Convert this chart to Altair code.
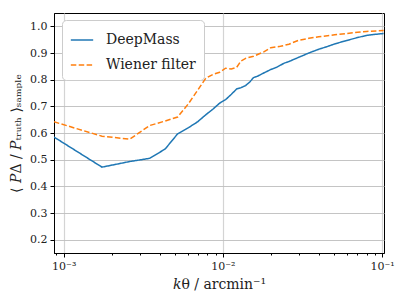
import altair as alt
import pandas as pd

# DeepMass curve
k_deep = [0.000868, 0.00174, 0.0026, 0.00347, 0.00434, 0.0052, 0.00608, 0.00694,
          0.0078, 0.00868, 0.00955, 0.0104, 0.0113, 0.0122, 0.0130, 0.0139, 0.0148,
          0.0156, 0.0165, 0.0182, 0.0200, 0.0217, 0.0243, 0.0260, 0.0300, 0.0347,
          0.0400, 0.0452, 0.0504, 0.0600, 0.0703, 0.0799, 0.0903, 0.1024]
v_deep = [0.585, 0.472, 0.493, 0.505, 0.540, 0.597, 0.620, 0.642,
          0.668, 0.690, 0.712, 0.725, 0.745, 0.765, 0.770, 0.778, 0.792,
          0.808, 0.813, 0.826, 0.838, 0.846, 0.862, 0.868, 0.884, 0.900,
          0.914, 0.924, 0.934, 0.947, 0.958, 0.966, 0.970, 0.973]

# Wiener filter curve
k_wf = [0.000868, 0.00174, 0.0026, 0.00347, 0.00434, 0.0052, 0.00608, 0.00694,
        0.0078, 0.00868, 0.00955, 0.0104, 0.0113, 0.0122, 0.0130, 0.0139, 0.0156,
        0.0182, 0.0200, 0.0230, 0.0260, 0.0300, 0.0347, 0.0400, 0.0504, 0.0600,
        0.0703, 0.0799, 0.1024]
v_wf = [0.642, 0.588, 0.577, 0.628, 0.645, 0.660, 0.710, 0.760,
        0.805, 0.820, 0.828, 0.843, 0.840, 0.846, 0.870, 0.880, 0.888,
        0.905, 0.920, 0.925, 0.933, 0.948, 0.955, 0.961, 0.968, 0.973,
        0.978, 0.981, 0.984]

series_names = ["DeepMass", "Wiener filter"]
series_colors = ["#1f77b4", "#ff7f0e"]

x_ticks = [0.0009, 0.001, 0.002, 0.003, 0.004, 0.005, 0.006, 0.007, 0.008, 0.009,
           0.01, 0.02, 0.03, 0.04, 0.05, 0.06, 0.07, 0.08, 0.09, 0.1]
y_ticks = [0.2, 0.3, 0.4, 0.5, 0.6, 0.7, 0.8, 0.9, 1.0]

df = pd.concat([
    pd.DataFrame({"k": k_deep, "v": v_deep, "s": series_names[0]}),
    pd.DataFrame({"k": k_wf, "v": v_wf, "s": series_names[1]}),
])

FONT = "DejaVu Serif"
major = "abs(log(datum.value)/LN10 - round(log(datum.value)/LN10)) < 1e-6"
label_expr = ("abs(log(datum.value)/LN10 - round(log(datum.value)/LN10)) < 1e-6 ? "
              "'10' + (round(log(datum.value)/LN10) == -3 ? '⁻³' : "
              "round(log(datum.value)/LN10) == -2 ? '⁻²' : '⁻¹') : ''")

chart = alt.Chart(df).mark_line(strokeWidth=1.5, clip=True).encode(
    x=alt.X("k:Q",
            scale=alt.Scale(type="log", domain=[0.000869, 0.1029], nice=False),
            axis=alt.Axis(title="𝑘θ / arcmin⁻¹", values=x_ticks, labelExpr=label_expr,
                          grid=True,
                          gridColor="#d4d4d4",
                          gridWidth=1.2,
                          gridOpacity={"condition": {"test": major, "value": 1}, "value": 0},
                          tickSize={"condition": {"test": major, "value": 4}, "value": 2},
                          labelFlush=False, labelOverlap=False)),
    y=alt.Y("v:Q",
            scale=alt.Scale(domain=[0.15, 1.05], nice=False, zero=False),
            axis=alt.Axis(title="⟨ 𝑃Δ / 𝑃ₜᵣᵤₜₕ ⟩ₛₐₘₚₗₑ", values=y_ticks, format=".1f",
                          grid=True, gridColor="#bdbdbd", gridWidth=0.9, tickSize=4)),
    color=alt.Color("s:N",
                    scale=alt.Scale(domain=series_names, range=series_colors),
                    legend=alt.Legend(title=None, orient="none", legendX=8, legendY=7)),
    strokeDash=alt.StrokeDash("s:N",
                              scale=alt.Scale(domain=series_names, range=[[1, 0], [5.5, 2.4]]),
                              legend=alt.Legend(title=None, orient="none", legendX=8, legendY=7)),
).properties(
    width=330, height=240,
    autosize=alt.AutoSizeParams(type="none"),
    padding={"left": 46, "top": 5, "right": 15, "bottom": 52},
).configure_view(
    stroke="black", strokeWidth=1,
).configure_axis(
    labelFont=FONT, titleFont=FONT, labelFontSize=11, titleFontSize=14,
    titleFontWeight="normal", labelColor="#222", titleColor="#222",
    domainColor="black", tickColor="black", labelPadding=3,
).configure_axisX(
    titlePadding=6,
).configure_axisY(
    titlePadding=6,
).configure_legend(
    labelFont=FONT, labelFontSize=14, labelColor="#222",
    symbolType="stroke", symbolSize=500, symbolStrokeWidth=1.5,
    strokeColor="#cccccc", fillColor="white", cornerRadius=4,
    padding=8, rowPadding=6, labelOffset=12,
)

chart.save("out.html", embed_options={"renderer": "svg", "actions": False})
